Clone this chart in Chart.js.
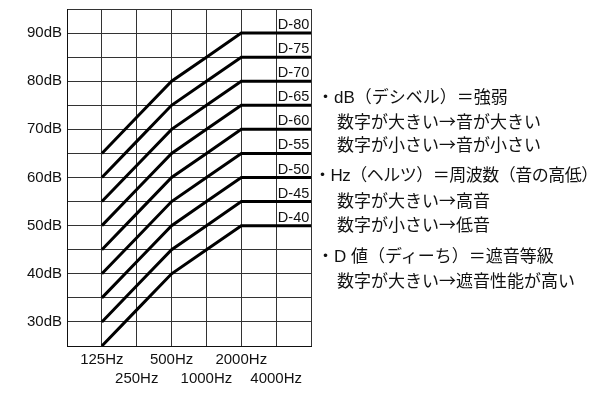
<!DOCTYPE html>
<html>
<head>
<meta charset="utf-8">
<script src="https://cdn.jsdelivr.net/npm/chart.js@4.4.0/dist/chart.umd.min.js"></script>
<style>
  html, body { margin: 0; padding: 0; background: #fff; }
  #wrap { position: relative; width: 600px; height: 398px; overflow: hidden; }
  #chart { position: absolute; left: 0; top: 0; }
  .note {
    position: absolute;
    font-family: "Liberation Sans", "Noto Sans CJK JP", sans-serif;
    font-size: 17px;
    line-height: 23px;
    color: #111;
    white-space: nowrap;
  }
  .note .arrow { font-family: "Noto Sans CJK JP", sans-serif; }
</style>
</head>
<body>
<div id="wrap">
  <canvas id="chart" width="600" height="398"></canvas>
</div>
<script>
// frequency bands (x axis) and sound level range (y axis)
const freqLabels = ['125Hz', '250Hz', '500Hz', '1000Hz', '2000Hz', '4000Hz'];
const yMin = 25;
const yMax = 95;
const yStep = 5;

// D-value reference curves, dB at each band
const dNames = ['D-40', 'D-45', 'D-50', 'D-55', 'D-60', 'D-65', 'D-70', 'D-75', 'D-80'];
const d40 = [25, 32.5, 40, 45, 50, 50];
const d45 = [30, 37.5, 45, 50, 55, 55];
const d50 = [35, 42.5, 50, 55, 60, 60];
const d55 = [40, 47.5, 55, 60, 65, 65];
const d60 = [45, 52.5, 60, 65, 70, 70];
const d65 = [50, 57.5, 65, 70, 75, 75];
const d70 = [55, 62.5, 70, 75, 80, 80];
const d75 = [60, 67.5, 75, 80, 85, 85];
const d80 = [65, 72.5, 80, 85, 90, 90];
const dSeries = [d40, d45, d50, d55, d60, d65, d70, d75, d80];

// explanation text on the right
const noteLines = [
  '・dB（デシベル）＝強弱',
  '数字が大きい→音が大きい',
  '数字が小さい→音が小さい',
  '・Hz（ヘルツ）＝周波数（音の高低）',
  '数字が大きい→高音',
  '数字が小さい→低音',
  '・D 値（ディーち）＝遮音等級',
  '数字が大きい→遮音性能が高い'
];

const FONT = '"Liberation Sans", Arial, sans-serif';
const INK = '#111';

// band i sits at x = i + 1, the plot runs one step past each end
const datasets = dSeries.map((vals, k) => {
  const pts = vals.map((v, i) => ({ x: i + 1, y: v }));
  pts.push({ x: vals.length + 1, y: vals[vals.length - 1] }); // run on to the right edge
  return {
    label: dNames[k],
    data: pts,
    borderColor: '#000',
    borderWidth: 3,
    pointRadius: 0,
    tension: 0,
    fill: false
  };
});

const curveLabels = {
  id: 'curveLabels',
  afterDatasetsDraw(chart) {
    const ctx = chart.ctx;
    const xs = chart.scales.x;
    const ys = chart.scales.y;
    const n = freqLabels.length;
    const cx = (xs.getPixelForValue(n) + xs.getPixelForValue(n + 1)) / 2;
    ctx.save();
    ctx.font = '14.5px ' + FONT;
    ctx.fillStyle = INK;
    ctx.textAlign = 'center';
    ctx.textBaseline = 'alphabetic';
    dSeries.forEach((vals, k) => {
      const y = ys.getPixelForValue(vals[vals.length - 1]);
      ctx.fillText(dNames[k], cx, y - 4);
    });
    ctx.restore();
  }
};

new Chart(document.getElementById('chart'), {
  type: 'line',
  data: { datasets: datasets },
  plugins: [curveLabels],
  options: {
    responsive: false,
    animation: false,
    layout: { padding: { top: 9, right: 289, left: 0, bottom: 0 } },
    plugins: {
      legend: { display: false },
      tooltip: { enabled: false }
    },
    scales: {
      x: {
        type: 'linear',
        min: 0,
        max: freqLabels.length + 1,
        afterBuildTicks: (s) => {
          s.ticks = [];
          for (let v = 0; v <= freqLabels.length + 1; v++) s.ticks.push({ value: v });
        },
        afterFit: (s) => { s.height = 52; s.paddingLeft = 0; s.paddingRight = 0; },
        grid: { color: '#333', lineWidth: 1, drawTicks: false },
        border: { color: '#111', width: 1 },
        ticks: {
          autoSkip: false,
          maxRotation: 0,
          padding: 4,
          color: INK,
          font: { family: FONT, size: 15, lineHeight: 1.3 },
          callback: (v) => {
            const lab = freqLabels[v - 1];
            if (!lab) return '';
            return (v - 1) % 2 === 0 ? lab : ['', lab];
          }
        }
      },
      y: {
        min: yMin,
        max: yMax,
        afterFit: (s) => { s.width = 67; s.paddingTop = 0; s.paddingBottom = 0; },
        grid: { color: '#333', lineWidth: 1, drawTicks: false },
        border: { color: '#111', width: 1 },
        ticks: {
          stepSize: yStep,
          padding: 5,
          color: INK,
          font: { family: FONT, size: 15 },
          callback: (v) => (v % 10 === 0 ? v + 'dB' : '')
        }
      }
    }
  }
});

// place the note lines
const wrap = document.getElementById('wrap');
const noteTops = [86, 109, 132, 164, 188, 212, 245, 268];
const noteLefts = [317, 337, 337, 314, 337, 337, 317, 337];
const noteSpacing = [0, 0, 0, -0.5, 0, 0, 0, 0];
noteLines.forEach((t, i) => {
  const d = document.createElement('div');
  d.className = 'note';
  d.style.top = noteTops[i] + 'px';
  d.style.left = noteLefts[i] + 'px';
  d.style.letterSpacing = noteSpacing[i] + 'px';
  t.split('→').forEach((part, j) => {
    if (j > 0) {
      const a = document.createElement('span');
      a.className = 'arrow';
      a.textContent = '→';
      d.appendChild(a);
    }
    d.appendChild(document.createTextNode(part));
  });
  wrap.appendChild(d);
});
</script>
</body>
</html>
